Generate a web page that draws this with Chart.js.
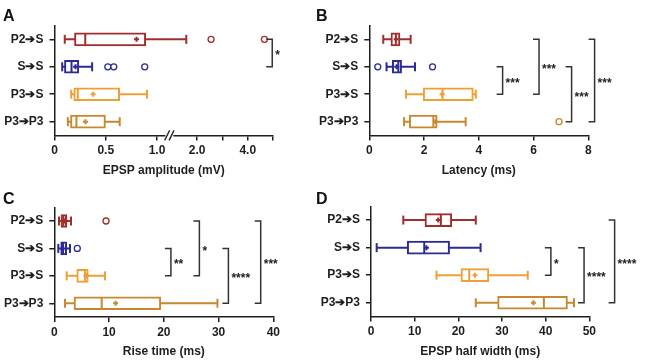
<!DOCTYPE html>
<html>
<head>
<meta charset="utf-8">
<script src="https://cdn.jsdelivr.net/npm/chart.js@4.4.0/dist/chart.umd.min.js"></script>
<style>
  body { margin: 0; background: #fff; }
  #fig { position: relative; width: 646px; height: 362px; }
  #fig canvas { position: absolute; }
  .tag { position: absolute; font: bold 16px/1 'Liberation Sans', Arial, sans-serif; color: #111; }
</style>
</head>
<body>
<div id="fig">
  <canvas id="chartA" width="310" height="181" style="left:0;top:0"></canvas>
  <canvas id="chartB" width="336" height="181" style="left:310px;top:0"></canvas>
  <canvas id="chartC" width="310" height="181" style="left:0;top:181px"></canvas>
  <canvas id="chartD" width="336" height="181" style="left:310px;top:181px"></canvas>
  <div class="tag" style="left:3px;top:8px">A</div>
  <div class="tag" style="left:316px;top:8px">B</div>
  <div class="tag" style="left:3px;top:191px">C</div>
  <div class="tag" style="left:316px;top:191px">D</div>
</div>
<script>
// ============================================
// 箱线图 — 四组连接的 EPSP 参数
// ============================================

const CATS = ['P2➔S', 'S➔S', 'P3➔S', 'P3➔P3'];
const BOX_COLORS = ['#A02E2C', '#2C2A93', '#EE9F35', '#C68830'];
const INK = '#1e1e1e';
const FONT = "'Liberation Sans', Arial, sans-serif";

// ── A: EPSP amplitude (mV) ──
const ampLo = [0.10, 0.075, 0.163, 0.13];
const ampQ1 = [0.195, 0.097, 0.188, 0.156];
const ampMed = [0.30, 0.166, 0.227, 0.214];
const ampQ3 = [0.89, 0.237, 0.636, 0.497];
const ampHi = [1.57, 0.367, 0.903, 0.636];
const ampMean = [0.80, 0.205, 0.377, 0.302];
const ampOut = [[0, 2.55], [0, 4.66], [1, 0.52], [1, 0.578], [1, 0.88]];
const ampSig = [[0, 1, 4.97, '*']];
const ampTicks = [0, 0.5, 1, 2, 3, 4, 5];
const ampTickLabels = ['0', '0.5', '1.0', '2.0', '', '4.0', ''];

// ── B: Latency (ms) ──
const latLo = [0.51, 0.63, 1.34, 1.27];
const latQ1 = [0.79, 0.84, 1.97, 1.46];
const latMed = [0.97, 1.06, 2.68, 2.34];
const latQ3 = [1.12, 1.18, 3.80, 2.48];
const latHi = [1.51, 1.67, 3.89, 3.52];
const latMean = [0.98, 1.00, 2.66, 2.42];
const latOut = [[1, 0.31], [1, 2.31], [3, 6.93]];
const latSig = [[1, 2, 4.87, '***'], [0, 2, 6.2, '***'], [1, 3, 7.39, '***'], [0, 3, 8.23, '***']];

// ── C: Rise time (ms) ──
const riseLo = [0.86, 0.73, 2.26, 1.96];
const riseQ1 = [1.22, 1.17, 4.1, 3.6];
const riseMed = [1.65, 1.6, 5.6, 8.66];
const riseQ3 = [2.26, 2.26, 6.2, 19.45];
const riseHi = [3.05, 2.87, 9.27, 29.8];
const riseMean = [1.8, 1.6, 5.8, 11.2];
const riseOut = [[0, 9.45], [1, 4.2]];
const riseSig = [[1, 2, 21.3, '**'], [0, 2, 26.5, '*'], [1, 3, 31.8, '****'], [0, 3, 37.7, '***']];

// ── D: EPSP half width (ms) ──
const hwLo = [7.4, 1.3, 15.0, 24.0];
const hwQ1 = [12.36, 8.3, 20.6, 29.0];
const hwMed = [16.0, 12.2, 22.5, 39.6];
const hwQ3 = [18.5, 18.0, 27.0, 45.0];
const hwHi = [24.0, 25.1, 35.9, 46.5];
const hwMean = [15.4, 12.7, 23.8, 37.2];
const hwOut = [];
const hwSig = [[1, 2, 41.2, '*'], [1, 3, 48.8, '****'], [0, 3, 55.8, '****']];

// 断轴：左段 0–1.12 按原比例，右段从 0.9 起压缩
const AMP_SPLIT = 1.12;
const AMP_RIGHT_FROM = 0.9;
const AMP_RIGHT_RATIO = 0.2466;
function ampToAxis(v) {
  return v <= AMP_SPLIT ? v : AMP_SPLIT + (v - AMP_RIGHT_FROM) * AMP_RIGHT_RATIO;
}

// ── 箱线图数据集 ──

function boxDatasets(p) {
  const tx = p.tx || (v => v);
  const range = (a, b) => a.map((v, i) => [tx(v), tx(b[i])]);
  const at = vals => vals.map((v, i) => ({ x: tx(v), y: CATS[i] }));
  return [
    { type: 'bar', data: range(p.lo, p.hi), backgroundColor: BOX_COLORS, borderWidth: 0,
      barThickness: 2, grouped: false, inflateAmount: 0, order: 5 },
    { type: 'bar', data: range(p.q1, p.q3), backgroundColor: '#fff', borderColor: BOX_COLORS,
      borderWidth: 2, borderSkipped: false, barThickness: 13, grouped: false, order: 4 },
    { type: 'scatter', data: at(p.lo).concat(at(p.hi)), pointStyle: 'line', pointRotation: 90,
      pointRadius: 4.5, pointBorderColor: BOX_COLORS.concat(BOX_COLORS), pointBorderWidth: 2, clip: false, order: 3 },
    { type: 'scatter', data: at(p.med), pointStyle: 'line', pointRotation: 90,
      pointRadius: 5.5, pointBorderColor: BOX_COLORS, pointBorderWidth: 2, clip: false, order: 2 },
    { type: 'scatter', data: at(p.mean), pointStyle: 'cross', pointRadius: 2.5,
      pointBorderColor: BOX_COLORS, pointBorderWidth: 2, clip: false, order: 1 },
    { type: 'scatter', data: p.out.map(([c, v]) => ({ x: tx(v), y: CATS[c] })), pointStyle: 'circle',
      pointRadius: 3, pointBackgroundColor: '#fff', pointBorderColor: p.out.map(([c]) => BOX_COLORS[c]),
      pointBorderWidth: 1.3, clip: false, order: 0 },
  ];
}

// ── 显著性括号 + 断轴标记 ──

function sigPlugin(p) {
  const tx = p.tx || (v => v);
  return {
    id: 'sig',
    afterDraw(chart) {
      const { ctx, scales: { x, y } } = chart;
      ctx.save();
      ctx.strokeStyle = '#333';
      ctx.fillStyle = '#222';
      ctx.lineWidth = 1.5;
      ctx.font = 'bold 12px ' + FONT;
      ctx.textAlign = 'left';
      ctx.textBaseline = 'middle';
      p.sig.forEach(([a, b, pos, label]) => {
        const px = x.getPixelForValue(tx(pos));
        const ya = y.getPixelForValue(a);
        const yb = y.getPixelForValue(b);
        ctx.beginPath();
        ctx.moveTo(px - 6, ya);
        ctx.lineTo(px, ya);
        ctx.lineTo(px, yb);
        ctx.lineTo(px - 6, yb);
        ctx.stroke();
        ctx.fillText(label, px + 3, (ya + yb) / 2 + 3);
      });
      if (p.breakAt != null) {
        const bx = x.getPixelForValue(p.breakAt);
        const by = chart.chartArea.bottom;
        ctx.fillStyle = '#fff';
        ctx.fillRect(bx - 4, by - 2, 8, 4);
        ctx.strokeStyle = INK;
        ctx.lineWidth = 1.3;
        [-2.2, 2.2].forEach(dx => {
          ctx.beginPath();
          ctx.moveTo(bx + dx - 2.5, by + 5);
          ctx.lineTo(bx + dx + 2.5, by - 5);
          ctx.stroke();
        });
      }
      ctx.restore();
    },
  };
}

// ── 单个面板 ──

function renderPanel(id, p) {
  const g = p.geo;
  const tickFont = { family: FONT, size: 12, weight: 'bold' };
  const xScale = {
    type: 'linear',
    min: 0,
    max: p.max,
    afterFit: s => { s.height = g.xh; },
    grid: { drawOnChartArea: false, color: INK, lineWidth: 1.5, tickLength: 5 },
    border: { color: INK, width: 1.5 },
    ticks: { color: INK, font: tickFont, padding: 3, maxRotation: 0, autoSkip: false },
    title: { display: true, text: p.title, color: INK, font: tickFont, padding: { top: 0, bottom: 3.5 } },
  };
  if (p.step) xScale.ticks.stepSize = p.step;
  if (p.ticks) {
    xScale.afterBuildTicks = s => { s.ticks = p.ticks.map(v => ({ value: v })); };
    xScale.ticks.callback = (v, i) => p.tickLabels[i];
  }

  new Chart(document.getElementById(id), {
    type: 'bar',
    data: { labels: CATS, datasets: boxDatasets(p) },
    options: {
      indexAxis: 'y',
      responsive: false,
      animation: false,
      events: [],
      layout: { padding: { left: 0, right: g.right, top: g.top, bottom: 0 } },
      plugins: { legend: { display: false }, tooltip: { enabled: false } },
      scales: {
        x: xScale,
        y: {
          type: 'category',
          offset: true,
          afterFit: s => { s.width = g.left; },
          grid: { offset: false, drawOnChartArea: false, color: INK, lineWidth: 1.5, tickLength: 5 },
          border: { color: INK, width: 1.5 },
          ticks: { color: INK, font: tickFont, padding: 6 },
        },
      },
    },
    plugins: [sigPlugin(p)],
  });
}

renderPanel('chartA', {
  lo: ampLo, q1: ampQ1, med: ampMed, q3: ampQ3, hi: ampHi, mean: ampMean, out: ampOut, sig: ampSig,
  tx: ampToAxis, max: ampToAxis(5), ticks: ampTicks.map(ampToAxis), tickLabels: ampTickLabels,
  breakAt: AMP_SPLIT, title: 'EPSP amplitude (mV)',
  geo: { left: 54.5, right: 37, top: 25.6, xh: 45.6 },
});

renderPanel('chartB', {
  lo: latLo, q1: latQ1, med: latMed, q3: latQ3, hi: latHi, mean: latMean, out: latOut, sig: latSig,
  max: 8, step: 2, title: 'Latency (ms)',
  geo: { left: 59.3, right: 57.7, top: 25.6, xh: 45.6 },
});

renderPanel('chartC', {
  lo: riseLo, q1: riseQ1, med: riseMed, q3: riseQ3, hi: riseHi, mean: riseMean, out: riseOut, sig: riseSig,
  max: 40, step: 10, title: 'Rise time (ms)',
  geo: { left: 54.3, right: 36.7, top: 26.3, xh: 45 },
});

renderPanel('chartD', {
  lo: hwLo, q1: hwQ1, med: hwMed, q3: hwQ3, hi: hwHi, mean: hwMean, out: hwOut, sig: hwSig,
  max: 50, step: 10, title: 'EPSP half width (ms)',
  geo: { left: 61, right: 56.7, top: 25.3, xh: 45.5 },
});
</script>
</body>
</html>
